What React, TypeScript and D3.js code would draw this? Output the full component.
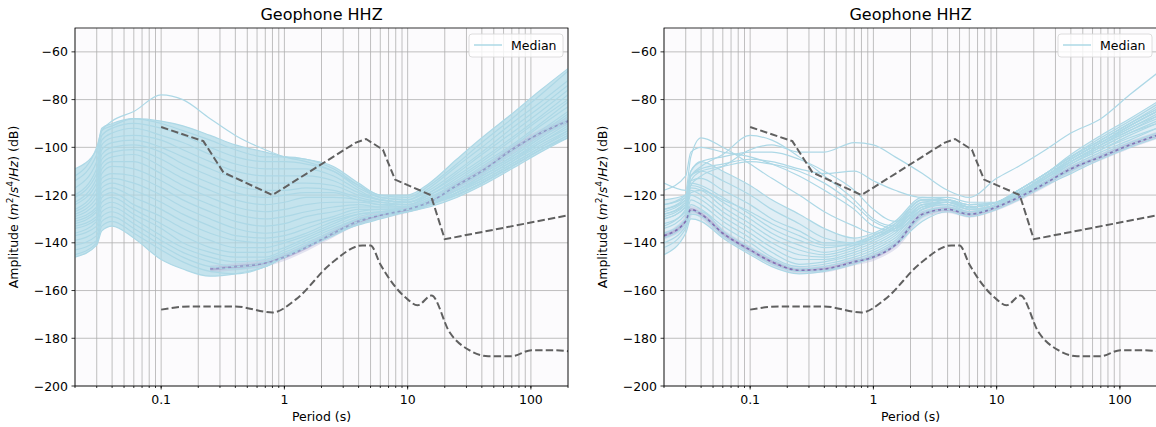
import * as d3 from "d3";

// period grid (s) shared by every PSD curve
const periods = [0.02, 0.03, 0.033, 0.04, 0.06, 0.1, 0.15, 0.25, 0.4, 0.7, 1, 1.5, 2.5, 4, 6, 10, 15, 25, 40, 70, 120, 200];

// left panel: individual PSD curves (dB), first one is the high outlier
const leftCurves = [
  [-112, -100, -93, -89, -85, -78, -80, -88, -95, -101, -104, -106, -110, -116, -120, -121, -116, -107, -98, -88, -78, -68],
  [-109, -101, -92, -90, -88, -89, -91, -95, -99, -102, -104, -105, -108, -115, -120, -120, -115, -105, -96, -86, -76, -67],
  [-114, -103, -93, -91, -88, -90, -93, -97, -101, -104, -104, -105, -109, -116, -121, -122, -117, -108, -100, -90, -81, -72],
  [-117, -106, -95, -92, -90, -92, -95, -100, -104, -106, -106, -107, -110, -117, -121, -122, -118, -110, -102, -92, -83, -74],
  [-120, -109, -97, -94, -92, -95, -98, -103, -107, -109, -109, -109, -112, -118, -122, -123, -119, -111, -103, -94, -85, -76],
  [-121, -111, -99, -96, -95, -97, -101, -106, -110, -112, -112, -112, -114, -119, -122, -123, -119, -112, -105, -96, -87, -78],
  [-123, -113, -101, -98, -97, -100, -104, -109, -113, -115, -115, -115, -116, -120, -122, -123, -120, -113, -106, -97, -88, -80],
  [-124, -115, -103, -100, -99, -102, -107, -112, -116, -118, -118, -117, -118, -121, -123, -124, -120, -114, -107, -99, -90, -81],
  [-126, -117, -105, -102, -101, -105, -110, -115, -119, -121, -120, -119, -119, -122, -123, -124, -121, -115, -108, -100, -91, -83],
  [-127, -119, -107, -104, -103, -108, -113, -118, -122, -124, -123, -121, -121, -122, -124, -124, -121, -115, -109, -101, -93, -85],
  [-128, -121, -109, -106, -106, -111, -116, -121, -125, -127, -126, -124, -123, -123, -124, -125, -122, -116, -110, -102, -94, -86],
  [-129, -123, -111, -108, -109, -114, -119, -124, -128, -130, -129, -127, -125, -124, -125, -125, -122, -116, -110, -103, -95, -87],
  [-130, -125, -113, -111, -112, -117, -122, -127, -131, -133, -132, -129, -127, -125, -125, -125, -122, -117, -111, -104, -96, -88],
  [-131, -126, -115, -113, -115, -120, -125, -130, -134, -136, -135, -132, -129, -126, -126, -125, -122, -117, -111, -104, -96, -89],
  [-132, -127, -117, -115, -118, -123, -128, -133, -137, -138, -137, -134, -130, -127, -126, -126, -123, -118, -112, -105, -97, -90],
  [-133, -129, -119, -117, -121, -126, -131, -136, -139, -140, -139, -136, -131, -128, -127, -126, -123, -118, -112, -105, -98, -91],
  [-134, -130, -121, -119, -124, -129, -134, -139, -142, -142, -140, -137, -132, -128, -127, -126, -123, -118, -113, -106, -98, -92],
  [-136, -131, -123, -121, -126, -132, -137, -142, -144, -144, -142, -138, -133, -129, -127, -126, -123, -119, -113, -106, -99, -93],
  [-137, -133, -125, -123, -128, -134, -140, -144, -146, -146, -143, -139, -134, -130, -128, -126, -124, -119, -114, -107, -100, -93],
  [-139, -135, -127, -125, -130, -137, -142, -146, -148, -147, -144, -140, -135, -130, -128, -126, -124, -119, -114, -107, -100, -94],
  [-141, -137, -129, -127, -132, -139, -144, -148, -150, -148, -145, -141, -136, -131, -128, -127, -124, -120, -115, -108, -101, -95],
  [-143, -139, -131, -129, -134, -141, -146, -150, -151, -149, -146, -141, -136, -131, -128, -127, -124, -120, -115, -108, -101, -95],
  [-145, -140, -133, -131, -136, -143, -148, -152, -153, -150, -146, -142, -137, -132, -129, -127, -124, -120, -115, -108, -101, -96],
  [-146, -141, -135, -133, -138, -147, -151, -154, -153, -150, -146, -142, -136, -132.5, -130, -127, -125, -121, -116, -109, -102, -96],
];
// density maximum, only visible from ~0.25 s on in the left panel
const leftMode = [null, null, null, null, null, null, null, -151, -150, -148.5, -146, -142, -136, -131, -128.5, -126, -123, -116, -110, -101, -94, -89];

// right panel: dense core first (14 curves), then the outliers
const rightCurves = [
  [-145, -136, -130, -131, -138, -145, -150, -153, -152, -149, -146, -141, -131, -127, -129, -126, -122, -116, -111, -105, -100, -96],
  [-142, -134, -128, -129, -137, -144, -149, -152, -151.5, -148, -145, -140, -129, -126, -128, -125, -121, -115, -110, -104, -99, -95],
  [-140, -133, -127, -127, -135, -142, -147, -151, -150, -147, -144, -139, -128, -125, -128, -125, -121, -115, -109, -103, -98, -94],
  [-138, -132, -124, -126, -133, -140, -146, -150, -149, -146, -143, -138, -127, -125, -127, -125, -121, -114, -108, -102, -97, -92],
  [-136, -130, -122, -124, -131, -138, -144, -149, -148, -145, -142, -137, -126, -124, -127, -124, -120, -114, -107, -101, -95, -90],
  [-134, -128, -120, -122, -129, -136, -142, -147, -147, -144, -141, -136, -125, -124, -126, -124, -120, -113, -107, -100, -94, -89],
  [-132, -127, -118, -120, -127, -134, -140, -145, -146, -143, -140, -135, -124, -123, -126, -124, -119, -113, -106, -99, -92, -87],
  [-130, -125, -117, -118, -125, -132, -138, -143, -145, -142, -139, -134, -123, -123, -125, -123, -119, -112, -105, -98, -91, -85],
  [-128, -124, -116, -117, -123, -130, -136, -141, -144, -141, -138, -133, -122, -122, -125, -123, -118, -111, -104, -97, -90, -83],
  [-127, -122, -115, -116, -121, -128, -134, -139, -142, -140, -137, -132, -122, -122, -124, -123, -118, -111, -103, -95, -88, -81],
  [-133, -126, -119, -118, -122, -127, -132, -137, -141, -141, -138, -134, -124, -123, -126, -124, -120, -113, -106, -99, -93, -88],
  [-129, -124, -114, -113, -118, -124, -130, -135, -140, -140, -138, -133, -123, -122, -125, -123, -119, -112, -105, -98, -92, -86],
  [-124, -121, -112, -110, -114, -120, -126, -132, -138, -140, -137, -132, -122, -122, -124, -123, -119, -112, -106, -100, -94, -90],
  [-122, -120, -110, -106, -110, -116, -122, -128, -134, -138, -136, -131, -121, -122, -124, -123, -119, -113, -107, -101, -96, -92],
  [-115, -118, -104, -96, -100, -107, -113, -120, -127, -133, -136, -134, -124, -123, -125, -123, -119, -112, -105, -98, -91, -85],
  [-126, -122, -112, -108, -103, -95, -97, -104, -112, -122, -130, -133, -126, -123, -125, -123, -118, -111, -104, -96, -89, -82],
  [-130, -125, -116, -112, -108, -101, -99, -102, -102, -98, -99, -104, -111, -118, -121, -113, -108, -101, -94, -88, -78, -69],
  [-124, -120, -110, -106, -104, -102, -102, -105, -110, -118, -126, -131, -125, -122, -125, -123, -118, -111, -104, -97, -90, -84],
  [-128, -123, -114, -110, -108, -106, -107, -110, -115, -124, -131, -134, -125, -123, -125, -123, -119, -112, -105, -98, -91, -85],
  [-118, -112, -102, -100, -102, -104, -107, -112, -118, -126, -133, -135, -126, -123, -125, -123, -119, -112, -106, -99, -93, -87],
  [-126, -121, -112, -109, -107, -105, -106, -109, -111, -110, -114, -118, -121, -121, -123, -123, -118, -111, -104, -97, -90, -84],
];
const rightMode = [-137, -131, -126, -128, -136, -143, -148, -151.5, -151, -148, -146, -141, -128, -126, -128, -125, -121, -115, -109, -104, -99, -95];

// Peterson noise models
const nhnmPeriods = [0.1, 0.22, 0.32, 0.8, 3.8, 4.6, 6.3, 7.9, 15.4, 20, 354.8];
const nhnmValues = [-91.5, -97.4, -110.5, -120.0, -98.0, -96.5, -101.0, -113.5, -120.0, -138.5, -126.0];
const nlnmPeriods = [0.1, 0.17, 0.4, 0.8, 1.24, 2.4, 4.3, 5.0, 6.0, 10, 12, 15.6, 21.9, 31.6, 45, 70, 101, 154, 328];
const nlnmValues = [-168.0, -166.7, -166.7, -169.2, -163.7, -148.6, -141.1, -141.1, -149.0, -163.7, -166.2, -162.1, -177.5, -185.0, -187.5, -187.5, -185.0, -185.0, -187.5];

const xTickValues = [0.1, 1, 10, 100];
const yTickValues = [-200, -180, -160, -140, -120, -100, -80, -60];
const panelTitle = "Geophone HHZ";
const legendLabel = "Median";

const FONT = "DejaVu Sans, sans-serif";
const BLUE = "#add8e6";
const top = 28;
const bottom = 386;

const minorTicks: number[] = [];
for (let e = -2; e <= 2; e++) {
  for (let k = 1; k <= 9; k++) {
    const v = k * Math.pow(10, e);
    if (v >= 0.02 && v <= 200) minorTicks.push(v);
  }
}

const fmtY = (v: number) => String(v).replace("-", "\u2212");

type PanelProps = {
  id: string;
  left: number;
  right: number;
  curves: number[][];
  band: number[][];
  bandOpacity: number;
  mode: (number | null)[];
  modeOpacity: number;
};

const Panel = ({ id, left, right, curves, band, bandOpacity, mode, modeOpacity }: PanelProps) => {
  const x = d3.scaleLog().domain([0.02, 200]).range([left, right]);
  const y = d3.scaleLinear().domain([-200, -50]).range([bottom, top]);

  const psdLine = d3
    .line<number | null>()
    .defined((d) => d != null)
    .x((_, i) => x(periods[i]))
    .y((d) => y(d as number))
    .curve(d3.curveMonotoneX);

  const bandArea = d3
    .area<number>()
    .x((p) => x(p))
    .y0((_, i) => y(d3.min(band, (c) => c[i]) as number))
    .y1((_, i) => y(d3.max(band, (c) => c[i]) as number))
    .curve(d3.curveMonotoneX);

  const modelLine = (ps: number[], vs: number[], curve: d3.CurveFactory) =>
    d3
      .line<number>()
      .x((_, i) => x(ps[i]))
      .y((d) => y(d))
      .curve(curve)(vs) as string;

  const cx = (left + right) / 2;
  const lgRight = right - 5;
  const modePath = psdLine(mode) as string;

  return (
    <g>
      <defs>
        <clipPath id={id}>
          <rect x={left} y={top} width={right - left} height={bottom - top} />
        </clipPath>
      </defs>
      <rect x={left} y={top} width={right - left} height={bottom - top} fill="#fcfbfd" />
      <g stroke="#b0b0b0" strokeWidth={0.8}>
        {minorTicks.map((t) => (
          <line key={"gx" + t} x1={x(t)} x2={x(t)} y1={top} y2={bottom} />
        ))}
        {yTickValues.map((t) => (
          <line key={"gy" + t} x1={left} x2={right} y1={y(t)} y2={y(t)} />
        ))}
      </g>
      <g clipPath={`url(#${id})`}>
        <path d={bandArea(periods) as string} fill={BLUE} opacity={bandOpacity} />
        <path d={modePath} fill="none" stroke="#bcbddc" strokeWidth={7} opacity={0.4} />
        <path d={modePath} fill="none" stroke="#9e9ac8" strokeWidth={3} opacity={0.5} />
        {curves.map((c, i) => (
          <path key={i} d={psdLine(c) as string} fill="none" stroke={BLUE} strokeWidth={1.2} />
        ))}
        <path
          d={modePath}
          fill="none"
          stroke="#6a51a3"
          strokeWidth={1.6}
          strokeDasharray="3 3"
          opacity={modeOpacity}
        />
        <path
          d={modelLine(nhnmPeriods, nhnmValues, d3.curveLinear)}
          fill="none"
          stroke="#606060"
          strokeWidth={2}
          strokeDasharray="7.4 3.2"
        />
        <path
          d={modelLine(nlnmPeriods, nlnmValues, d3.curveMonotoneX)}
          fill="none"
          stroke="#606060"
          strokeWidth={2}
          strokeDasharray="7.4 3.2"
        />
      </g>
      <rect x={left} y={top} width={right - left} height={bottom - top} fill="none" stroke="#000" strokeWidth={0.8} />
      <g stroke="#000" strokeWidth={0.8}>
        {minorTicks.map((t) => (
          <line key={"mt" + t} x1={x(t)} x2={x(t)} y1={bottom} y2={bottom + 2} />
        ))}
        {xTickValues.map((t) => (
          <line key={"xt" + t} x1={x(t)} x2={x(t)} y1={bottom} y2={bottom + 3.5} />
        ))}
        {yTickValues.map((t) => (
          <line key={"yt" + t} x1={left - 3.5} x2={left} y1={y(t)} y2={y(t)} />
        ))}
      </g>
      <g fontFamily={FONT} fontSize={12.5} fill="#000">
        {xTickValues.map((t) => (
          <text key={"xl" + t} x={x(t)} y={bottom + 18} textAnchor="middle">
            {String(t)}
          </text>
        ))}
        {yTickValues.map((t) => (
          <text key={"yl" + t} x={left - 7} y={y(t) + 4.5} textAnchor="end">
            {fmtY(t)}
          </text>
        ))}
        <text x={cx} y={421} textAnchor="middle">
          Period (s)
        </text>
        <text transform={`translate(${left - 57},${(top + bottom) / 2}) rotate(-90)`} textAnchor="middle">
          Amplitude (<tspan fontStyle="italic">m</tspan>
          <tspan dy={-5} fontSize={9}>2</tspan>
          <tspan dy={5}>/</tspan>
          <tspan fontStyle="italic">s</tspan>
          <tspan dy={-5} fontSize={9}>4</tspan>
          <tspan dy={5}>/</tspan>
          <tspan fontStyle="italic">Hz</tspan>) (dB)
        </text>
      </g>
      <text x={cx} y={20} textAnchor="middle" fontFamily={FONT} fontSize={16}>
        {panelTitle}
      </text>
      <g>
        <rect
          x={lgRight - 94}
          y={34}
          width={94}
          height={23}
          rx={3}
          fill="#fff"
          fillOpacity={0.8}
          stroke="#d6d6d6"
          strokeWidth={0.8}
        />
        <line x1={lgRight - 89} x2={lgRight - 61} y1={45} y2={45} stroke={BLUE} strokeWidth={1.5} />
        <text x={lgRight - 52} y={50} fontFamily={FONT} fontSize={12.5}>
          {legendLabel}
        </text>
      </g>
    </g>
  );
};

export default function App() {
  return (
    <svg width={1156} height={427} style={{ position: "absolute", left: 0, top: 0, background: "#fff" }}>
      <rect width={1156} height={427} fill="#fff" />
      <Panel
        id="clipL"
        left={75}
        right={568}
        curves={leftCurves}
        band={leftCurves.slice(1)}
        bandOpacity={0.7}
        mode={leftMode}
        modeOpacity={0.4}
      />
      <Panel
        id="clipR"
        left={664}
        right={1157}
        curves={rightCurves}
        band={rightCurves.slice(0, 14)}
        bandOpacity={0.35}
        mode={rightMode}
        modeOpacity={0.7}
      />
    </svg>
  );
}
